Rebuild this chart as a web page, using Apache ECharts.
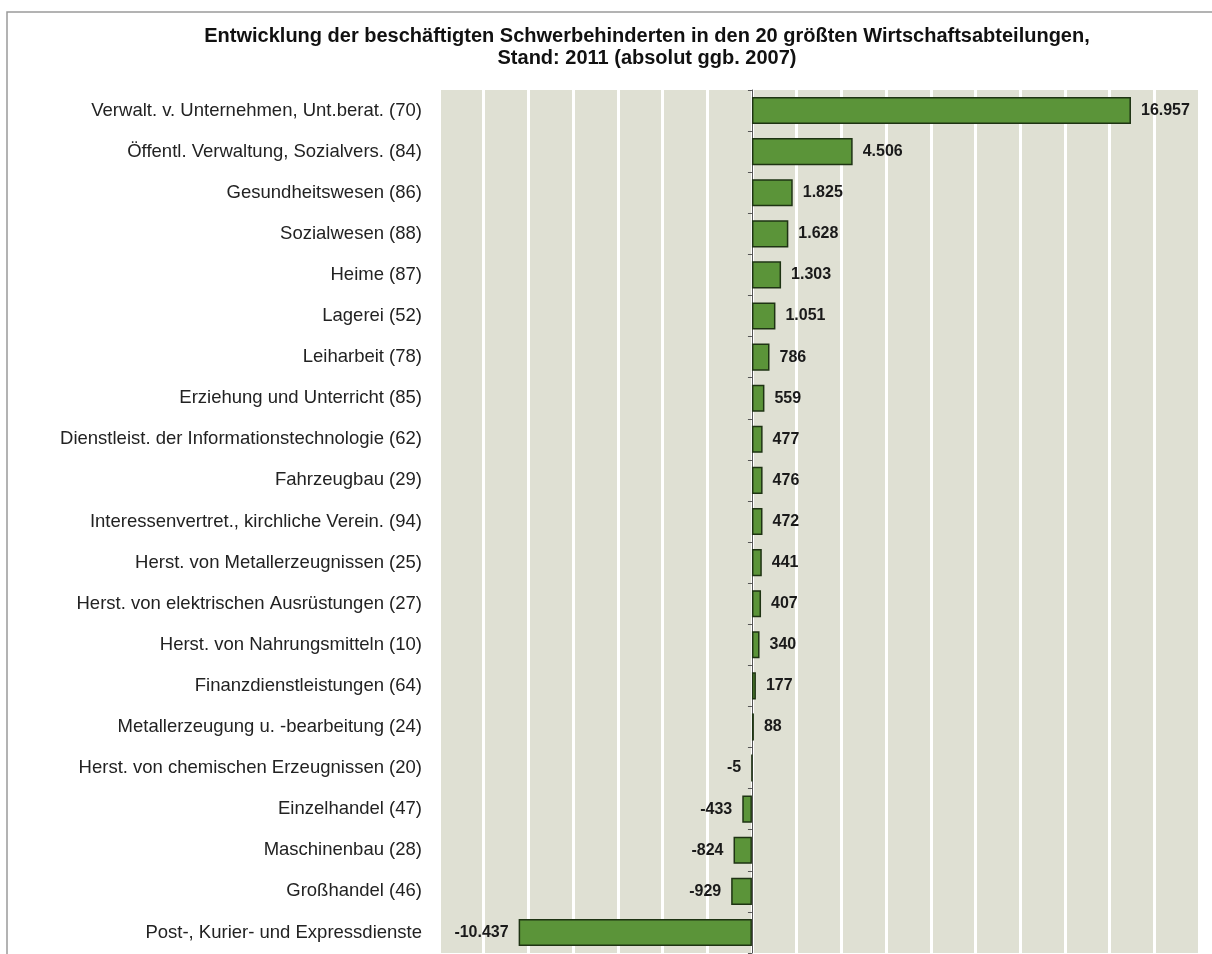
<!DOCTYPE html>
<html>
<head>
<meta charset="utf-8">
<script src="https://cdn.jsdelivr.net/npm/echarts@6/dist/echarts.min.js"></script>
<style>
  html, body { margin: 0; padding: 0; background: #fff; }
  #chart1 { width: 1212px; height: 954px; }
</style>
</head>
<body>
<div id="chart1"></div>
<script>
var titleLines = [
    'Entwicklung der beschäftigten Schwerbehinderten in den 20 größten Wirtschaftsabteilungen,',
    'Stand: 2011 (absolut ggb. 2007)'
];
var categories = [
    'Verwalt. v. Unternehmen, Unt.berat. (70)',
    'Öffentl. Verwaltung, Sozialvers. (84)',
    'Gesundheitswesen (86)',
    'Sozialwesen (88)',
    'Heime (87)',
    'Lagerei (52)',
    'Leiharbeit (78)',
    'Erziehung und Unterricht (85)',
    'Dienstleist. der Informationstechnologie (62)',
    'Fahrzeugbau (29)',
    'Interessenvertret., kirchliche Verein. (94)',
    'Herst. von Metallerzeugnissen (25)',
    'Herst. von elektrischen Ausrüstungen (27)',
    'Herst. von Nahrungsmitteln (10)',
    'Finanzdienstleistungen (64)',
    'Metallerzeugung u. -bearbeitung (24)',
    'Herst. von chemischen Erzeugnissen (20)',
    'Einzelhandel (47)',
    'Maschinenbau (28)',
    'Großhandel (46)',
    'Post-, Kurier- und Expressdienste'
];
var values = [16957, 4506, 1825, 1628, 1303, 1051, 786, 559, 477, 476, 472, 441, 407, 340, 177, 88, -5, -433, -824, -929, -10437];

// 16957 -> "16.957"
function fmt(v) {
    var s = String(Math.abs(v)).replace(/\B(?=(\d{3})+(?!\d))/g, '.');
    return (v < 0 ? '-' : '') + s;
}

var font = '"Liberation Sans", Arial, sans-serif';
var chart = echarts.init(document.getElementById('chart1'));

var barData = values.map(function (v) {
    return {
        value: v,
        label: { position: v < 0 ? 'left' : 'right' }
    };
});

var option = {
    animation: false,
    backgroundColor: '#fff',
    graphic: [
        {
            type: 'polyline',
            shape: { points: [[7, 954], [7, 12], [1212, 12]] },
            style: { stroke: '#9a9a9a', lineWidth: 1.5, fill: null }
        },
        {
            type: 'text',
            x: 647, y: 25,
            style: {
                text: titleLines.join('\n'),
                align: 'center',
                verticalAlign: 'top',
                font: 'bold 20px ' + font,
                lineHeight: 22,
                fill: '#111'
            }
        }
    ],
    grid: {
        left: 439,
        right: 13,
        top: 90,
        bottom: 1,
        show: true,
        backgroundColor: '#dfe0d3',
        borderWidth: 0
    },
    xAxis: {
        type: 'value',
        min: -14000,
        max: 20000,
        interval: 2000,
        axisLabel: { show: false },
        axisLine: { show: false },
        axisTick: { show: false },
        splitLine: { show: true, lineStyle: { color: '#ffffff', width: 3 } }
    },
    yAxis: [
        {
            type: 'category',
            inverse: true,
            data: categories,
            axisLine: { show: false, onZero: false },
            axisTick: { show: false },
            axisLabel: {
                margin: 17,
                fontFamily: font,
                fontSize: 18.5,
                color: '#222'
            }
        },
        {
            type: 'category',
            inverse: true,
            position: 'left',
            data: categories,
            axisLine: { show: true, onZero: true, lineStyle: { color: '#555', width: 1 } },
            axisTick: { show: true, length: 4, lineStyle: { color: '#555' } },
            axisLabel: { show: false }
        }
    ],
    series: [
        {
            type: 'bar',
            yAxisIndex: 0,
            barWidth: '66%',
            data: barData,
            itemStyle: {
                color: '#5b9439',
                borderColor: '#1e3313',
                borderWidth: 1.5
            },
            label: {
                show: true,
                distance: 10,
                fontFamily: font,
                fontSize: 16,
                fontWeight: 'bold',
                color: '#1a1a1a',
                formatter: function (p) { return fmt(p.value); }
            }
        }
    ]
};
chart.setOption(option, true);
</script>
</body>
</html>
